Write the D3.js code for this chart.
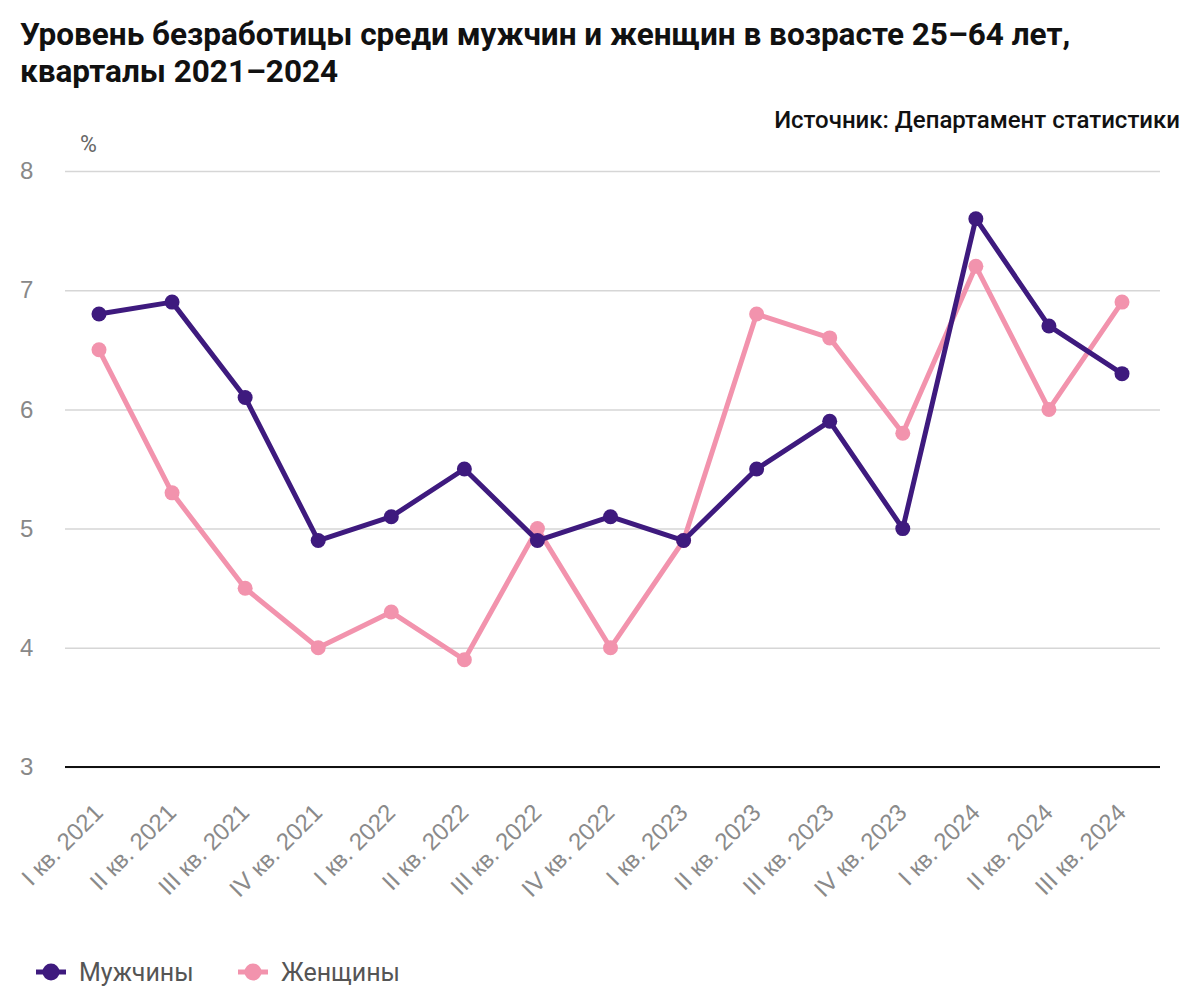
<!DOCTYPE html>
<html>
<head>
<meta charset="utf-8">
<script src="https://cdn.jsdelivr.net/npm/d3@7"></script>
<style>
  body { margin: 0; background: #fff; }
  svg { font-family: Roboto, "Noto Sans", sans-serif; }
</style>
</head>
<body>
<svg id="chart" width="1200" height="1000"></svg>
<script>
const quarters = [
  'I кв. 2021', 'II кв. 2021', 'III кв. 2021', 'IV кв. 2021',
  'I кв. 2022', 'II кв. 2022', 'III кв. 2022', 'IV кв. 2022',
  'I кв. 2023', 'II кв. 2023', 'III кв. 2023', 'IV кв. 2023',
  'I кв. 2024', 'II кв. 2024', 'III кв. 2024'
];
const men   = [6.8, 6.9, 6.1, 4.9, 5.1, 5.5, 4.9, 5.1, 4.9, 5.5, 5.9, 5.0, 7.6, 6.7, 6.3];
const women = [6.5, 5.3, 4.5, 4.0, 4.3, 3.9, 5.0, 4.0, 4.9, 6.8, 6.6, 5.8, 7.2, 6.0, 6.9];
const yTicks = [3, 4, 5, 6, 7, 8];

const series = [
  {name: 'Женщины', values: women, color: '#f293ad'},
  {name: 'Мужчины', values: men, color: '#3e1a7e'}
];

const svg = d3.select('#chart');

// title
svg.append('text')
   .attr('x', 20).attr('y', 45)
   .attr('font-size', 31.5).attr('font-weight', 700).attr('fill', '#111')
   .text('Уровень безработицы среди мужчин и женщин в возрасте 25–64 лет,');
svg.append('text')
   .attr('x', 20).attr('y', 82)
   .attr('font-size', 31.5).attr('font-weight', 700).attr('fill', '#111')
   .text('кварталы 2021–2024');
svg.append('text')
   .attr('x', 1180).attr('y', 128)
   .attr('text-anchor', 'end')
   .attr('font-size', 24).attr('font-weight', 500).attr('fill', '#111')
   .text('Источник: Департамент статистики');

const xScale = d3.scalePoint().domain(quarters).range([99, 1122]);
const yScale = d3.scaleLinear().domain([3, 8]).range([767, 171]);

// grid + y labels
const yAxis = d3.axisLeft(yScale).tickValues(yTicks).tickSize(-(1160 - 65)).tickFormat(d3.format('d'));
const gy = svg.append('g')
   .attr('class', 'graph-axis y-axis')
   .attr('transform', 'translate(65, 0)')
   .call(yAxis);
gy.select('.domain').remove();
gy.selectAll('.tick line').attr('stroke', '#d6d6d6').attr('stroke-width', 1.5);
gy.selectAll('.tick text')
  .attr('x', -45).attr('text-anchor', 'start')
  .attr('font-size', 24).attr('fill', '#888');

svg.append('text')
   .attr('x', 80).attr('y', 152)
   .attr('font-size', 23).attr('fill', '#666')
   .text('%');

// x axis baseline + rotated labels
const xAxis = d3.axisBottom(xScale).tickSize(0).tickPadding(0);
const gx = svg.append('g')
   .attr('class', 'graph-axis x-axis')
   .attr('transform', `translate(0, ${yScale(3)})`)
   .call(xAxis);
gx.select('.domain').remove();
svg.append('line')
   .attr('x1', 65).attr('x2', 1160)
   .attr('y1', yScale(3)).attr('y2', yScale(3))
   .attr('stroke', '#111').attr('stroke-width', 2);
gx.selectAll('.tick text')
  .attr('text-anchor', 'end')
  .attr('font-size', 24).attr('fill', '#8a8a8a')
  .attr('dy', 0).attr('y', 0)
  .attr('transform', 'translate(5, 47) rotate(-45)');

// lines + markers
const line = d3.line()
  .x((d, i) => xScale(quarters[i]))
  .y(d => yScale(d));

series.forEach(s => {
  const g = svg.append('g');
  g.append('path')
   .attr('d', line(s.values))
   .attr('fill', 'none')
   .attr('stroke', s.color)
   .attr('stroke-width', 5)
   .attr('stroke-linejoin', 'round');
  g.selectAll('circle')
   .data(s.values)
   .join('circle')
   .attr('cx', (d, i) => xScale(quarters[i]))
   .attr('cy', d => yScale(d))
   .attr('r', 7.5)
   .attr('fill', s.color);
});

// legend
const legendItems = [series[1], series[0]];
const lg = svg.append('g').attr('transform', 'translate(36, 972)');
let lx = 0;
legendItems.forEach(s => {
  const item = lg.append('g').attr('transform', `translate(${lx}, 0)`);
  item.append('line')
      .attr('x1', 0).attr('x2', 30).attr('y1', 0).attr('y2', 0)
      .attr('stroke', s.color).attr('stroke-width', 5);
  item.append('circle').attr('cx', 15).attr('cy', 0).attr('r', 8.5).attr('fill', s.color);
  item.append('text')
      .attr('x', 43).attr('y', 9)
      .attr('font-size', 25).attr('fill', '#555')
      .text(s.name);
  lx += 202;
});
</script>
</body>
</html>
